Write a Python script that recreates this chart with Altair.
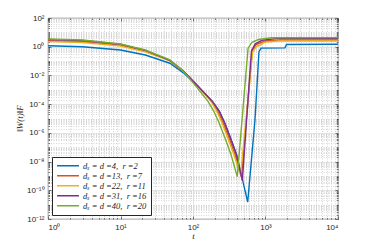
import altair as alt
import pandas as pd

NB = "\u00a0"
labels = [f"dₓ = d =4,{NB} r =2", f"dₓ = d =13,{NB} r =7", f"dₓ = d =22,{NB} r =11",
          f"dₓ = d =31,{NB} r =16", f"dₓ = d =40,{NB} r =20"]
colors = ["#0072BD", "#D95319", "#EDB120", "#7E2F8E", "#77AC30"]

# values, as log10 of ||W(t)||_F
t_blue = [1, 3, 10, 22, 48, 73, 106, 185, 230, 272, 329, 398, 479, 568,
          716, 813, 870, 1850, 1950, 10000]
lw_blue = [0.07, 0.0, -0.23, -0.58, -1.15, -1.8, -2.55, -3.81, -4.48, -5.28,
           -6.36, -7.51, -9.2, -10.83, -5.1, -0.35, -0.1, -0.08, 0.15, 0.17]

t_red = [1, 3, 10, 22, 48, 73, 106, 183, 219, 259, 314, 380, 467,
         655, 740, 1000, 1600, 10000]
lw_red = [0.42, 0.35, 0.1, -0.3, -0.97, -1.68, -2.5, -3.81, -4.48, -5.28,
          -6.36, -7.51, -9.07, -0.3, 0.15, 0.4, 0.47, 0.47]

t_orange = [1, 3, 10, 22, 48, 73, 106, 177, 212, 250, 302, 366, 453,
            665, 760, 850, 950, 1500, 10000]
lw_orange = [0.36, 0.29, 0.05, -0.35, -0.99, -1.69, -2.5, -3.81, -4.48, -5.28,
             -6.36, -7.51, -8.93, -0.35, 0.05, 0.1, 0.3, 0.4, 0.4]

t_purple = [1, 3, 10, 22, 48, 73, 106, 185, 230, 272, 329, 398, 479,
            640, 720, 900, 1400, 10000]
lw_purple = [0.5, 0.43, 0.17, -0.25, -0.95, -1.67, -2.53, -3.81, -4.48, -5.28,
             -6.36, -7.51, -9.33, -0.3, 0.2, 0.45, 0.56, 0.57]

t_green = [1, 3, 10, 22, 48, 73, 106, 161, 193, 228, 276, 334, 408,
           575, 650, 800, 1200, 10000]
lw_green = [0.54, 0.47, 0.19, -0.23, -0.92, -1.7, -2.66, -3.81, -4.48, -5.28,
            -6.36, -7.51, -9.05, -0.1, 0.3, 0.5, 0.62, 0.63]

x_exps = [0, 1, 2, 3, 4]
y_exps = [-12, -10, -8, -6, -4, -2, 0, 2]

series = [(t_blue, lw_blue), (t_red, lw_red), (t_orange, lw_orange),
          (t_purple, lw_purple), (t_green, lw_green)]
keys = ["a", "b", "c", "d", "e"]
rows = []
for k, (ts, lws) in zip(keys, series):
    for i, (t, lw) in enumerate(zip(ts, lws)):
        rows.append({"t": t, "W": 10.0 ** lw, "k": k, "i": i})
df = pd.DataFrame(rows)

sup = {"-": "⁻", "0": "⁰", "1": "¹", "2": "²", "3": "³", "4": "⁴",
       "5": "⁵", "6": "⁶", "7": "⁷", "8": "⁸", "9": "⁹"}
def supstr(n):
    return "".join(sup[c] for c in str(n))

EXP = "round(log(datum.value)/LN10)"
def label_expr(exps):
    expr = "''"
    for e in exps:
        expr = f"abs(log(datum.value)/LN10 - ({e})) < 0.001 ? '10{supstr(e)}' : ({expr})"
    return expr

IS_DEC = "abs(log(datum.value)/LN10 - round(log(datum.value)/LN10)) < 0.001"
X_MAJ = IS_DEC
Y_MAJ = f"{IS_DEC} && abs({EXP} % 2) < 0.5"

x_vals = [m * 10 ** k for k in range(0, 4) for m in range(1, 10)] + [10000]
y_vals = [m * 10.0 ** k for k in range(-12, 2) for m in range(1, 10)] + [100.0]

xs = alt.Scale(type="log", domain=[1, 10000], nice=False)
ys = alt.Scale(type="log", domain=[1e-12, 100], nice=False)

TXT = "#262626"

def axis_common(test, **kw):
    return dict(
        grid=True,
        gridDash={"condition": {"test": test, "value": []}, "value": [1, 1.5]},
        gridColor={"condition": {"test": test, "value": "#dcdcdc"}, "value": "#cccccc"},
        gridWidth=0.8,
        ticks=True, tickSize=3, offset=-3, tickColor=TXT, tickWidth=0.6,
        tickDash={"condition": {"test": test, "value": []}, "value": [0, 1.5, 1.5, 10]},
        domain=False, labelOverlap=False, labelBound=False,
        **kw,
    )

base = alt.Chart(df)

x_axis = alt.Axis(orient="bottom", values=x_vals, labelExpr=label_expr(x_exps),
                  labelPadding=4,
                  labelFont="Liberation Sans", labelFontSize=8, labelColor=TXT,
                  title="t", titleFont="Liberation Serif", titleFontStyle="italic",
                  titleFontWeight="normal", titleFontSize=9, titleColor=TXT,
                  titlePadding=0, **axis_common(X_MAJ))
y_axis = alt.Axis(orient="left", values=y_vals, labelExpr=label_expr(y_exps),
                  labelPadding=4,
                  labelFont="Liberation Sans", labelFontSize=8, labelColor=TXT,
                  title="‖W(t)‖F", titleFont="Liberation Serif", titleFontStyle="italic",
                  titleFontWeight="normal", titleFontSize=9, titleColor=TXT,
                  titleX=-27, titleY=100, **axis_common(Y_MAJ))

def box_axis(orient, test):
    d = axis_common(test)
    d["grid"] = False
    return alt.Axis(orient=orient, values=x_vals if orient == "top" else y_vals,
                    labels=False, title=None, **d)

box = base.mark_line(opacity=0).encode(
    x=alt.X("t:Q", scale=xs, axis=box_axis("top", X_MAJ)),
    y=alt.Y("W:Q", scale=ys, axis=box_axis("right", Y_MAJ)),
    detail="k:N",
)

lexpr = "''"
for k, l in reversed(list(zip(keys, labels))):
    lexpr = f"datum.value == '{k}' ? '{l}' : ({lexpr})"

lines = base.mark_line(strokeWidth=1.4).encode(
    x=alt.X("t:Q", scale=xs, axis=x_axis),
    y=alt.Y("W:Q", scale=ys, axis=y_axis),
    order="i:Q",
    color=alt.Color("k:N", scale=alt.Scale(domain=keys, range=colors),
                    legend=alt.Legend(title=None, orient="bottom-left", offset=4,
                                      labelExpr=lexpr, symbolType="stroke", symbolSize=480,
                                      symbolStrokeWidth=1.5, labelFont="Liberation Serif",
                                      labelFontStyle="italic", labelFontSize=8.5,
                                      labelColor=TXT, rowPadding=0, clipHeight=9.5,
                                      padding=4, strokeColor=TXT, fillColor="white",
                                      labelOffset=3)),
)

chart = alt.layer(lines, box).properties(
    width=290, height=201,
    autosize=alt.AutoSizeParams(type="none"),
    padding={"left": 40, "top": 10, "right": 28, "bottom": 22},
).configure_view(stroke=TXT, strokeWidth=0.8)

chart.save("out.html", embed_options={"renderer": "svg", "actions": False})
